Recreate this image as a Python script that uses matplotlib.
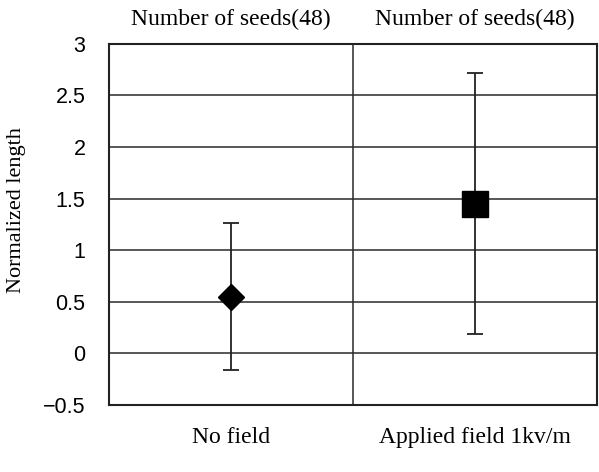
import numpy as np
import matplotlib
matplotlib.use("Agg")
import matplotlib.pyplot as plt

conditions = ["No field", "Applied field 1kv/m"]
seed_labels = ["Number of seeds(48)", "Number of seeds(48)"]
mean_length = [0.55, 1.45]
err_length = [0.715, 1.265]
markers = ["D", "s"]
marker_sizes = [13, 19]

yticks = [-0.5, 0, 0.5, 1, 1.5, 2, 2.5, 3]

fig = plt.figure(figsize=(5.99, 4.72), dpi=100)
ax = fig.add_axes([0.182, 0.142, 0.815, 0.765])

serif = "Liberation Serif"
sans = "Liberation Sans"

# grid lines and the divider between the two groups
for yv in yticks[1:-1]:
    ax.axhline(yv, color="#2a2a2a", lw=1.1, zorder=1)
ax.axvline(0.5, color="#2a2a2a", lw=1.1, zorder=1)

x = np.arange(len(conditions))
for i in range(len(conditions)):
    ax.errorbar(x[i], mean_length[i], yerr=err_length[i], fmt=markers[i],
                color="black", ms=marker_sizes[i], ecolor="#222222",
                elinewidth=1.3, capsize=5.5, capthick=1.3, zorder=3)

ax.set_xlim(-0.5, 1.5)
ax.set_ylim(-0.5, 3)
ax.set_yticks(yticks)
ax.set_yticklabels(["\u22120.5", "0", "0.5", "1", "1.5", "2", "2.5", "3"],
                   fontfamily=sans, fontsize=15.5)
ax.set_xticks(x)
ax.set_xticklabels(conditions, fontfamily=serif, fontsize=17)
ax.tick_params(axis="y", length=0, pad=17)
ax.tick_params(axis="x", length=0, pad=16)

for i in range(len(conditions)):
    ax.text(x[i], 1.068, seed_labels[i], transform=ax.get_xaxis_transform(),
            ha="center", va="center", fontfamily=serif, fontsize=17)

ax.set_ylabel("Normalized length", fontfamily=serif, fontsize=16, va="center")
ax.yaxis.set_label_coords(-0.19, 0.54)

for s in ax.spines.values():
    s.set_linewidth(1.5)
    s.set_color("#222222")

fig.savefig("out.png", dpi=100)
